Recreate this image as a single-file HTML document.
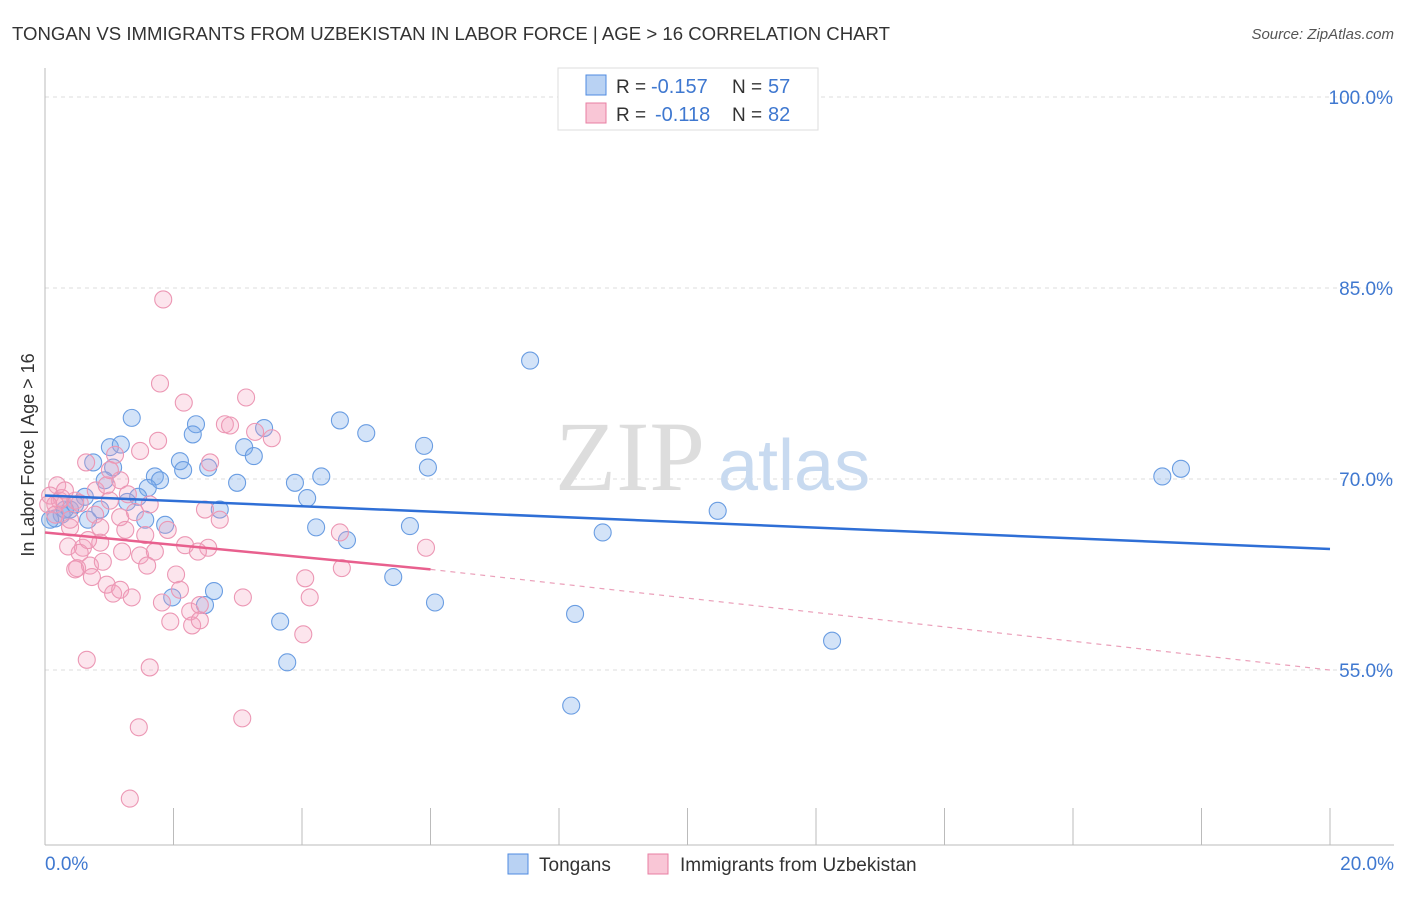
<!DOCTYPE html>
<html><head><meta charset="utf-8"><style>
body{margin:0;background:#fff;font-family:"Liberation Sans",sans-serif;}
</style></head><body>
<svg width="1406" height="892" xmlns="http://www.w3.org/2000/svg" font-family="Liberation Sans, sans-serif">
<text x="12" y="40" font-size="18.6" fill="#333">TONGAN VS IMMIGRANTS FROM UZBEKISTAN IN LABOR FORCE | AGE &gt; 16 CORRELATION CHART</text>
<text x="1394" y="39" font-size="15" fill="#555" font-style="italic" text-anchor="end">Source: ZipAtlas.com</text>
<g id="grid"></g>
<text x="555" y="490" font-size="100" fill="#ddd" font-family="Liberation Serif, serif">ZIP</text>
<text x="718" y="490" font-size="72" fill="#c8daf0">atlas</text>
<g id="axes"></g>
<g id="pts"></g>
<g id="trends"></g>
<text x="34" y="455" font-size="18" fill="#333" text-anchor="middle" transform="rotate(-90 34 455)">In Labor Force | Age &gt; 16</text>
<text x="45" y="870" font-size="19" fill="#3f78d0">0.0%</text>
<text x="1394" y="870" font-size="19" fill="#3f78d0" text-anchor="end">20.0%</text>
<g>
<rect x="558" y="68" width="260" height="62" fill="#fff" stroke="#ddd"/>
<rect x="586" y="75" width="20" height="20" fill="#b9d2f3" stroke="#4f8be0"/>
<rect x="586" y="103" width="20" height="20" fill="#f9c6d6" stroke="#e87fa3"/>
<text x="616" y="93" font-size="19" fill="#333">R =</text>
<text x="651" y="93" font-size="20" fill="#3f78d0">-0.157</text>
<text x="732" y="93" font-size="19" fill="#333">N =</text>
<text x="768" y="93" font-size="20" fill="#3f78d0">57</text>
<text x="616" y="121" font-size="19" fill="#333">R =</text>
<text x="655" y="121" font-size="20" fill="#3f78d0">-0.118</text>
<text x="732" y="121" font-size="19" fill="#333">N =</text>
<text x="768" y="121" font-size="20" fill="#3f78d0">82</text>
</g>
<g>
<rect x="508" y="854" width="20" height="20" fill="#b9d2f3" stroke="#4f8be0"/>
<text x="539" y="871" font-size="19" fill="#333">Tongans</text>
<rect x="648" y="854" width="20" height="20" fill="#f9c6d6" stroke="#e87fa3"/>
<text x="680" y="871" font-size="19" fill="#333">Immigrants from Uzbekistan</text>
</g>
</svg>
<script>
const yTicks=[100,85,70,55];
const yTickLabels=["100.0%","85.0%","70.0%","55.0%"];
const xTicks=[0,2,4,6,8,10,12,14,16,18,20];
const blueX=[1.35,1.01,1.18,0.75,1.06,1.71,1.79,1.60,1.45,1.28,0.86,0.67,1.56,1.87,0.26,0.16,0.08,0.39,0.62,2.35,2.30,2.10,2.15,2.54,2.72,2.99,2.63,2.49,1.98,3.10,3.25,3.41,3.89,4.08,4.30,4.22,4.70,4.59,5.00,5.90,5.96,5.68,5.42,6.07,3.66,3.77,7.55,8.68,8.25,8.19,10.47,12.25,17.39,17.68,0.31,0.47,0.93];
const blueY=[74.8,72.5,72.7,71.3,70.9,70.2,69.9,69.3,68.6,68.2,67.6,66.8,66.8,66.4,67.2,66.9,66.8,67.6,68.6,74.3,73.5,71.4,70.7,70.9,67.6,69.7,61.2,60.1,60.7,72.5,71.8,74.0,69.7,68.5,70.2,66.2,65.2,74.6,73.6,72.6,70.9,66.3,62.3,60.3,58.8,55.6,79.3,65.8,59.4,52.2,67.5,57.3,70.2,70.8,67.6,68.0,69.9];
const pinkX=[1.84,1.79,2.16,3.13,2.80,1.76,1.48,0.64,1.09,2.57,3.27,3.53,0.79,1.17,0.96,1.29,0.19,0.08,0.26,0.47,0.54,0.78,1.17,1.40,1.63,2.72,0.39,0.86,1.25,0.36,0.59,0.86,1.20,1.48,1.71,2.18,2.54,2.38,0.54,0.50,0.70,0.90,0.47,0.73,1.59,2.04,0.96,1.06,1.17,1.35,1.82,2.26,2.41,1.95,2.29,3.08,4.05,4.12,4.02,4.59,4.62,5.93,0.65,1.63,1.46,3.07,1.32,0.23,0.16,0.31,0.67,1.01,0.05,0.16,0.39,1.56,1.91,2.49,2.10,2.41,2.88,1.01];
const pinkY=[84.1,77.5,76.0,76.4,74.3,73.0,72.2,71.3,71.9,71.3,73.7,73.2,69.1,69.9,69.5,68.8,69.5,68.7,68.5,68.3,68.1,67.2,67.0,67.4,68.0,66.8,66.2,66.2,66.0,64.7,64.6,65.0,64.3,64.0,64.3,64.8,64.6,64.3,64.2,63.0,63.2,63.5,62.9,62.3,63.2,62.5,61.7,61.0,61.3,60.7,60.3,59.6,60.1,58.8,58.5,60.7,62.2,60.7,57.8,65.8,63.0,64.6,55.8,55.2,50.5,51.2,44.9,68.3,68.0,69.1,65.2,68.3,68.0,67.2,66.8,65.6,66.0,67.6,61.3,58.9,74.2,70.7];
const blueTrendX=[0,20], blueTrendY=[68.7,64.5];
const pinkTrendX=[0,6,20], pinkTrendY=[65.8,62.9,55.0];
const NS="http://www.w3.org/2000/svg";
const sx=v=>45+v*64.25, sy=v=>97+(100-v)*12.733;
function mk(t,a,p){const e=document.createElementNS(NS,t);for(const k in a)e.setAttribute(k,a[k]);document.getElementById(p).appendChild(e);return e;}
yTicks.forEach((t,i)=>{
 const l=mk('line',{x1:45,x2:1394,y1:sy(t),y2:sy(t),stroke:'#ddd','stroke-dasharray':'4,4'},'grid');
 
 
 const tx=mk('text',{x:1393,y:sy(t)+7,'font-size':19,fill:'#3f78d0','text-anchor':'end'},'grid');
 tx.textContent=yTickLabels[i];
 
 
});
const ax=mk('line',{x1:45,x2:45,y1:68,y2:845,stroke:'#bbb'},'axes');


const bx=mk('line',{x1:45,x2:1394,y1:845,y2:845,stroke:'#bbb'},'axes');


xTicks.forEach(t=>{
 const l=mk('line',{x1:sx(t),x2:sx(t),y1:808,y2:845,stroke:'#bbb'},'axes');
 
 
});
blueX.forEach((v,i)=>{
 const c=mk('circle',{cx:sx(v),cy:sy(blueY[i]),r:8.5,fill:'rgba(120,170,235,0.33)',stroke:'#6a9de2','stroke-width':1.1},'pts');
 
 
});
pinkX.forEach((v,i)=>{
 const c=mk('circle',{cx:sx(v),cy:sy(pinkY[i]),r:8.5,fill:'rgba(245,160,190,0.28)',stroke:'#ec97b4','stroke-width':1.1},'pts');
 
 
});
const bt=mk('line',{x1:sx(blueTrendX[0]),y1:sy(blueTrendY[0]),x2:sx(blueTrendX[1]),y2:sy(blueTrendY[1]),stroke:'#2f6fd6','stroke-width':2.5},'trends');


const pt=mk('line',{x1:sx(pinkTrendX[0]),y1:sy(pinkTrendY[0]),x2:sx(pinkTrendX[1]),y2:sy(pinkTrendY[1]),stroke:'#e8608e','stroke-width':2.5},'trends');


const pd=mk('line',{x1:sx(pinkTrendX[1]),y1:sy(pinkTrendY[1]),x2:sx(pinkTrendX[2]),y2:sy(pinkTrendY[2]),stroke:'#eba0ba','stroke-width':1.2,'stroke-dasharray':'5,5'},'trends');


</script>
</body></html>
